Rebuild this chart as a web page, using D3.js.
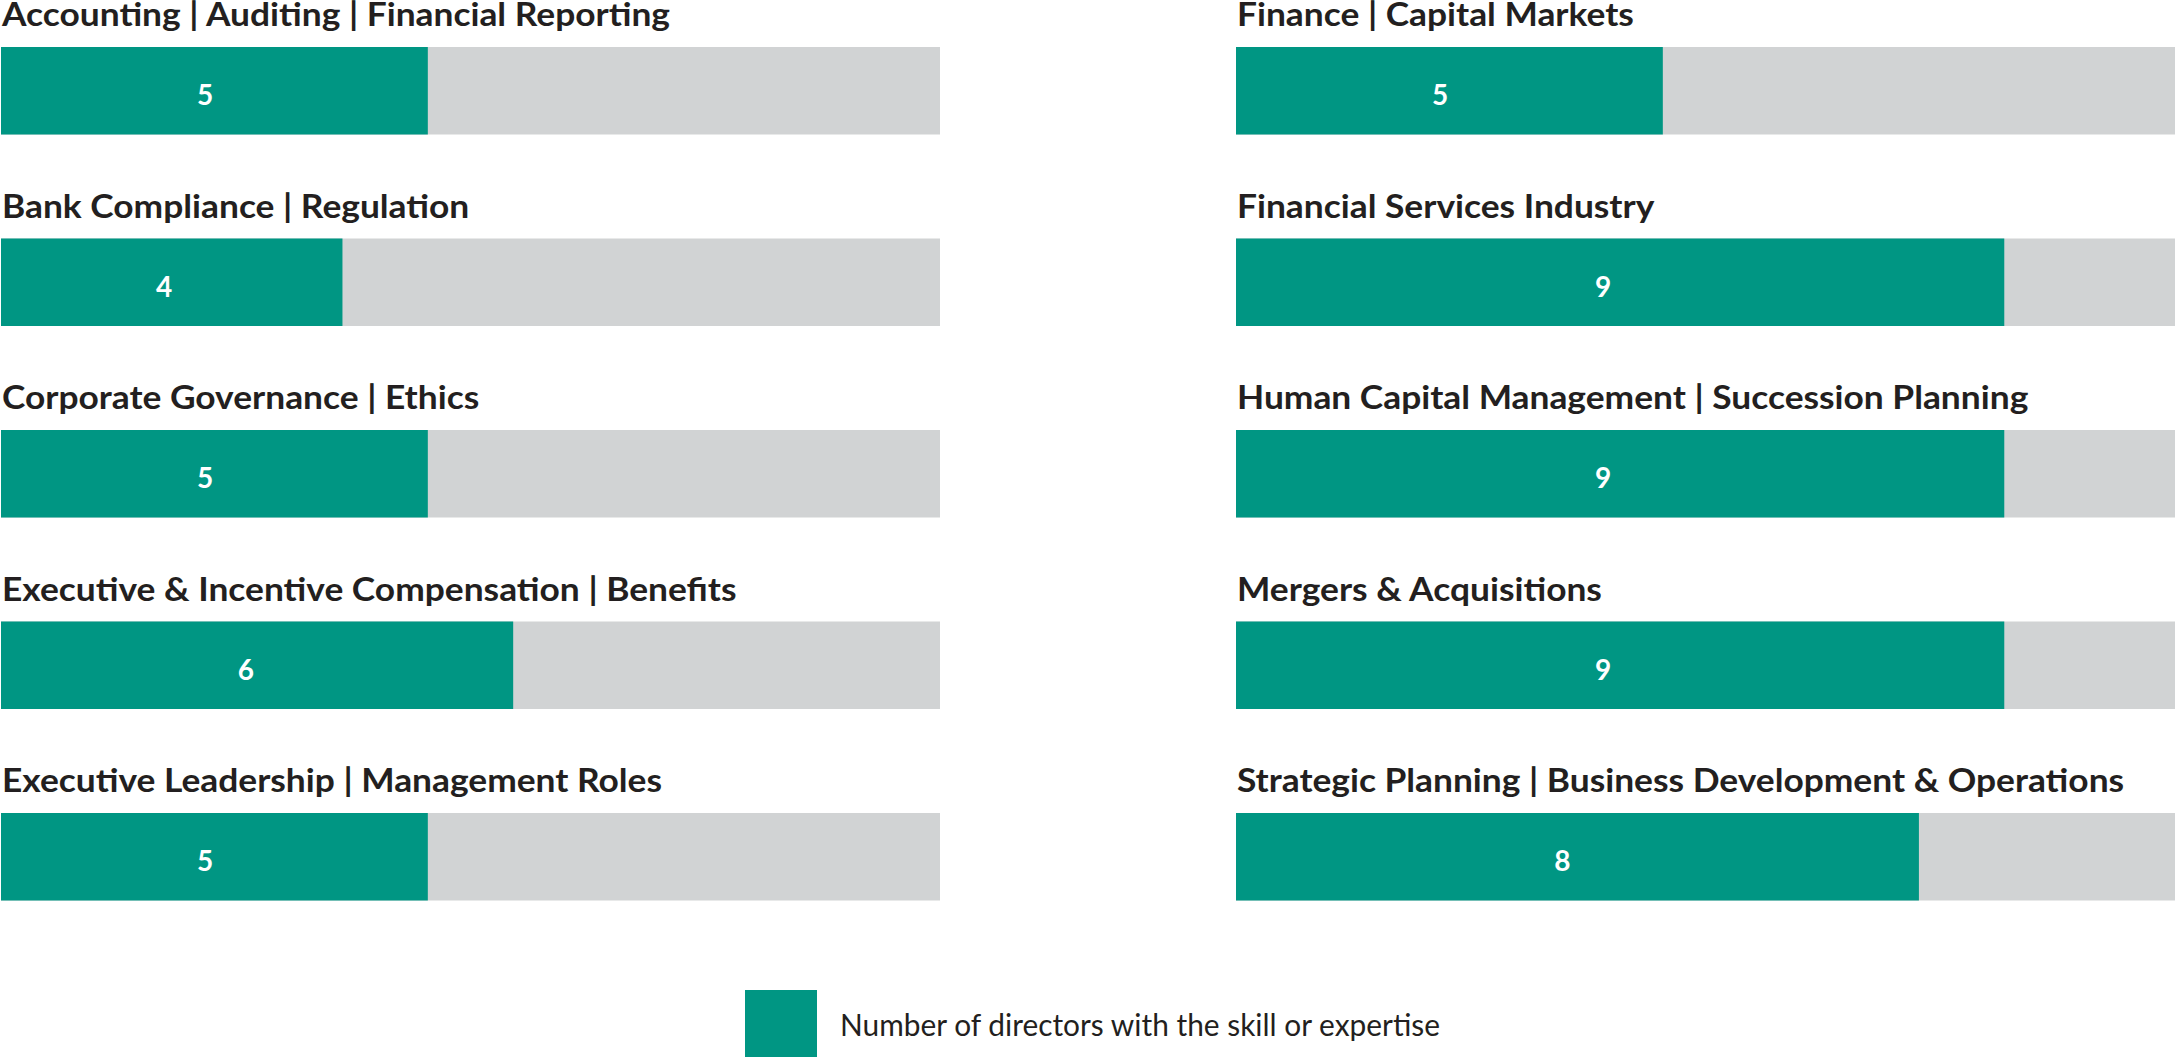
<!DOCTYPE html>
<html>
<head>
<meta charset="utf-8">
<script src="https://cdn.jsdelivr.net/npm/d3@7"></script>
<style>
  html, body { margin: 0; padding: 0; background: #ffffff; }
  svg { display: block; }
</style>
</head>
<body>
<svg id="chart" width="2175" height="1057"></svg>
<script>
// ---- data ----
const categoriesLeft = [
  "Accounting | Auditing | Financial Reporting",
  "Bank Compliance | Regulation",
  "Corporate Governance | Ethics",
  "Executive & Incentive Compensation | Benefits",
  "Executive Leadership | Management Roles"
];
const valuesLeft = [5, 4, 5, 6, 5];
const categoriesRight = [
  "Finance | Capital Markets",
  "Financial Services Industry",
  "Human Capital Management | Succession Planning",
  "Mergers & Acquisitions",
  "Strategic Planning | Business Development & Operations"
];
const valuesRight = [5, 9, 9, 9, 8];
const totalDirectors = 11;
const legendLabel = "Number of directors with the skill or expertise";

// ---- layout ----
const W = 2175, H = 1057;
const GREEN = "#009683", GRAY = "#d1d3d4", TEXT = "#231f20";
const FONT = "Lato, 'Open Sans', sans-serif";
const svg = d3.select("#chart");

const colX = d3.scaleOrdinal().domain(["left", "right"]).range([1, 1236]);
const barW = 939;
const x = d3.scaleLinear().domain([0, totalDirectors]).range([0, barW]);
const rowStep = 191.5, barH = 87.5, firstTop = 47;
const y = d3.scaleBand().domain(d3.range(5)).range([firstTop, firstTop + rowStep * 5]).paddingInner(0).paddingOuter(0);

const columns = [
  { key: "left", cats: categoriesLeft, vals: valuesLeft },
  { key: "right", cats: categoriesRight, vals: valuesRight }
];

const labelNodes = [];
columns.forEach(col => {
  const x0 = colX(col.key);
  const g = svg.append("g").attr("transform", `translate(${x0},0)`);
  const rows = g.selectAll("g.row")
    .data(col.cats.map((c, i) => ({ cat: c, val: col.vals[i], i })))
    .join("g").attr("class", "row")
    .attr("transform", d => `translate(0,${y(d.i)})`);

  rows.append("rect")
    .attr("x", x(0)).attr("y", 0)
    .attr("width", x(totalDirectors) - x(0)).attr("height", barH)
    .attr("fill", GRAY);

  rows.append("rect")
    .attr("x", x(0)).attr("y", 0)
    .attr("width", d => x(d.val) - x(0)).attr("height", barH)
    .attr("fill", GREEN);

  rows.append("text")
    .attr("x", d => x(0) + (x(d.val) - x(0)) * 0.478)
    .attr("y", 58)
    .attr("text-anchor", "middle")
    .attr("fill", "#ffffff")
    .attr("font-family", FONT)
    .attr("font-weight", 700)
    .attr("font-size", 28)
    .text(d => d.val);

  rows.append("text")
    .attr("class", "cat")
    .attr("x", 1)
    .attr("y", -21)
    .attr("fill", TEXT)
    .attr("font-family", FONT)
    .attr("font-weight", 700)
    .attr("font-size", 32)
    .text(d => d.cat)
    .each(function () { labelNodes.push(this); });
});

// condense category labels uniformly to match the reference's narrow face
const refWidth = 668;
const natural = labelNodes[0].getComputedTextLength();
const k = refWidth / natural;
labelNodes.forEach(n => {
  const w = n.getComputedTextLength();
  d3.select(n).attr("textLength", w * k).attr("lengthAdjust", "spacingAndGlyphs");
});

// ---- legend ----
const lg = svg.append("g").attr("transform", "translate(745,990)");
lg.append("rect").attr("x", 0).attr("y", 0).attr("width", 72).attr("height", 67).attr("fill", GREEN);
const lt = lg.append("text")
  .attr("x", 95).attr("y", 46)
  .attr("fill", TEXT)
  .attr("font-family", FONT)
  .attr("font-weight", 400)
  .attr("font-size", 30)
  .text(legendLabel);
const ltw = lt.node().getComputedTextLength();
lt.attr("textLength", ltw * (600 / ltw)).attr("lengthAdjust", "spacingAndGlyphs");
</script>
</body>
</html>
